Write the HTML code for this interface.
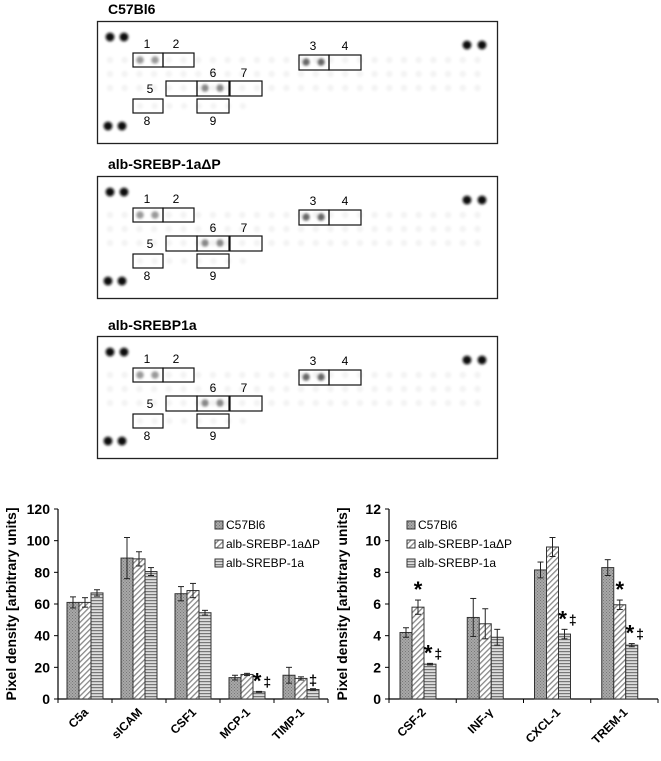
<!DOCTYPE html>
<html><head><meta charset="utf-8">
<style>
body{margin:0;background:#fff;font-family:"Liberation Sans",Arial,sans-serif;}
svg text{font-family:"Liberation Sans",Arial,sans-serif;}
</style></head>
<body>
<svg id="s" width="661" height="756" viewBox="0 0 661 756" xmlns="http://www.w3.org/2000/svg">
<defs>
<filter id="blur"><feGaussianBlur stdDeviation="1.3"/></filter>
<pattern id="pA" width="3" height="3" patternUnits="userSpaceOnUse"><rect width="3" height="3" fill="#a8a8a8"/><rect width="1" height="1" fill="#777"/><rect x="1.5" y="1.5" width="1" height="1" fill="#777"/></pattern>
<pattern id="pB" width="4" height="4" patternUnits="userSpaceOnUse" patternTransform="rotate(45)"><rect width="4" height="4" fill="#fff"/><rect width="1.3" height="4" fill="#888"/></pattern>
<pattern id="pC" width="4" height="3" patternUnits="userSpaceOnUse"><rect width="4" height="3" fill="#ddd"/><rect width="4" height="1.2" fill="#777"/></pattern>
</defs>
<g id="blots"></g>
<g id="chart1"></g>
<g id="chart2"></g>
</svg>
<script>
const NS="http://www.w3.org/2000/svg";
function mk(p,tag,at,txt){const e=document.createElementNS(NS,tag);for(const k in at)e.setAttribute(k,at[k]);if(txt!==undefined)e.textContent=txt;p.appendChild(e);return e;}

// ---- blots ----
const panelTitles=["C57Bl6","alb-SREBP-1a\u0394P","alb-SREBP1a"];
const panelTops=[21,176,336];
const titleYs=[14,169,330];
const blots=document.getElementById('blots');
const boxes=[[133,53,30,14],[163,53,31,14],[299,55,30,15],[329,55,32,15],[166,81,31,15],[197,81,32,15],[230,81,32,15],[133,99,30,14],[197,99,32,14]];
const lbl=[[147,48,"1"],[176,48,"2"],[313,50,"3"],[345,50,"4"],[150,93,"5"],[213,77,"6"],[244,77,"7"],[147,125,"8"],[213,125,"9"]];
const strong=[[140,60,"#999"],[155,60,"#999"],[306,62,"#666"],[321,62,"#666"],[205,88,"#888"],[220,88,"#888"]];
panelTops.forEach((pt,i)=>{
  const g=mk(blots,'g',{});
  
  
  const t=mk(g,'text',{x:108,y:titleYs[i],'font-size':14,'font-weight':'bold'},panelTitles[i]);
  
  
  const dy=pt-21;
  mk(g,'rect',{x:97.5,y:pt+0.5,width:400,height:122,fill:'#fff',stroke:'#222','stroke-width':1.3});
  const sp=mk(g,'g',{filter:'url(#blur)'});
  for(let r=0;r<3;r++)for(let c=0;c<26;c++){const x=110+c*14.7,y=60+r*14+dy;mk(sp,'circle',{cx:x,cy:y,r:3.2,fill:'#f3f3f3'});}
  for(let c=0;c<8;c++){mk(sp,'circle',{cx:140+c*14.7,cy:106+dy,r:3,fill:'#f3f3f3'});}
  [[110,37],[124,37],[108,126],[122,126],[467,45],[482,45]].forEach(p=>mk(sp,'circle',{cx:p[0],cy:p[1]+dy,r:4.4,fill:'#111'}));
  strong.forEach(p=>mk(sp,'circle',{cx:p[0],cy:p[1]+dy,r:3.8,fill:p[2]}));
  boxes.forEach(b=>mk(g,'rect',{x:b[0],y:b[1]+dy,width:b[2],height:b[3],fill:'none',stroke:'#111','stroke-width':1.2}));
  lbl.forEach(l=>mk(g,'text',{x:l[0],y:l[1]+dy,'font-size':12,'text-anchor':'middle'},l[2]));
});

// ---- chart data ----
const series=["C57Bl6","alb-SREBP-1a\u0394P","alb-SREBP-1a"];
const cats1=["C5a","sICAM","CSF1","MCP-1","TIMP-1"];
const s1a=[61,89,66.5,13.5,15];
const s1b=[61,88.5,68.5,15.5,13];
const s1c=[67,80.5,54.5,4.5,6];
const e1a=[3.5,13,4.5,1.5,5];
const e1b=[3,4.5,4.5,0.7,1];
const e1c=[2,2.5,1.5,0.3,0.5];
const marks1=[["","",""],["","",""],["","",""],["","","*\u2021"],["","","\u2021"]];
const ticks1=[0,20,40,60,80,100,120];
const cats2=["CSF-2","INF-\u03b3","CXCL-1","TREM-1"];
const s2a=[4.2,5.15,8.15,8.3];
const s2b=[5.8,4.75,9.6,5.95];
const s2c=[2.2,3.9,4.1,3.4];
const e2a=[0.3,1.2,0.5,0.5];
const e2b=[0.45,0.95,0.6,0.3];
const e2c=[0.05,0.5,0.3,0.1];
const marks2=[["","*","*\u2021"],["","",""],["","","*\u2021"],["","*","*\u2021"]];
const ticks2=[0,2,4,6,8,10,12];

const fills=["url(#pA)","url(#pB)","url(#pC)"];
function chart(gid,o){
  const g=document.getElementById(gid);
  const ymax=o.ticks[o.ticks.length-1];
  const yS=v=>o.y0-(v/ymax)*(o.y0-o.y1);
  const cw=(o.x1-o.x0)/o.cats.length;
  mk(g,'line',{x1:o.x0,y1:o.y1,x2:o.x0,y2:o.y0,stroke:'#000','stroke-width':1.2});
  mk(g,'line',{x1:o.x0,y1:o.y0,x2:o.x1,y2:o.y0,stroke:'#000','stroke-width':1.2});
  o.ticks.forEach(t=>{const y=yS(t);
    mk(g,'line',{x1:o.x0-4,y1:y,x2:o.x0,y2:y,stroke:'#000'});
    const tx=mk(g,'text',{x:o.x0-8,y:y+5,'font-size':14,'font-weight':'bold','text-anchor':'end'},String(t));
    
    
  });
  for(let i=0;i<=o.cats.length;i++){const x=o.x0+i*cw;mk(g,'line',{x1:x,y1:o.y0,x2:x,y2:o.y0+4,stroke:'#000'});}
  const yt=mk(g,'text',{transform:`translate(${o.x0-42},${(o.y0+o.y1)/2}) rotate(-90)`,'font-size':14,'font-weight':'bold','text-anchor':'middle'},'Pixel density [arbitrary units]');
  
  
  const vals=[o.a,o.b,o.c],errs=[o.ea,o.eb,o.ec];
  o.cats.forEach((c,i)=>{
    const gx=o.x0+i*cw+o.off;
    for(let s=0;s<3;s++){
      const x=gx+s*o.bw,v=vals[s][i],e=errs[s][i];
      const r=mk(g,'rect',{x:x,y:yS(v),width:o.bw,height:o.y0-yS(v),fill:fills[s],stroke:'#333','stroke-width':1});
      
      
      const cx=x+o.bw/2;
      mk(g,'line',{x1:cx,y1:yS(v+e),x2:cx,y2:yS(v-e),stroke:'#222','stroke-width':1});
      mk(g,'line',{x1:cx-3,y1:yS(v+e),x2:cx+3,y2:yS(v+e),stroke:'#222','stroke-width':1});
      mk(g,'line',{x1:cx-3,y1:yS(v-e),x2:cx+3,y2:yS(v-e),stroke:'#222','stroke-width':1});
      const m=o.marks[i][s];
      if(m){const mt=mk(g,'text',{x:cx+(m.length>1?3:0),y:yS(v+e)-3,'font-size':22,'font-weight':'bold','text-anchor':'middle'},'');
        if(m[0]==='*'){mk(mt,'tspan',{},'*');if(m.length>1)mk(mt,'tspan',{'font-size':14,dx:2,dy:-2},'\u2021');}
        else mk(mt,'tspan',{'font-size':15},'\u2021');
        
        
      }
    }
    const cxm=o.x0+i*cw+cw/2+4;
    const xl=mk(g,'text',{transform:`translate(${cxm},${o.y0+14}) rotate(-45)`,'font-size':12,'font-weight':'bold','text-anchor':'end'},c);
    
    
  });
  series.forEach((s,i)=>{
    const y=o.ly+i*19;
    const lg=mk(g,'g',{});
    
    
    mk(lg,'rect',{x:o.lx,y:y-8,width:8,height:8,fill:fills[i],stroke:'#333'});
    mk(lg,'text',{x:o.lx+11,y:y,'font-size':12},s);
  });
}
chart('chart1',{x0:58,x1:328,y0:699,y1:509,ticks:ticks1,cats:cats1,a:s1a,b:s1b,c:s1c,ea:e1a,eb:e1b,ec:e1c,marks:marks1,off:9,bw:12,lx:215,ly:529});
chart('chart2',{x0:389,x1:658,y0:699,y1:509,ticks:ticks2,cats:cats2,a:s2a,b:s2b,c:s2c,ea:e2a,eb:e2b,ec:e2c,marks:marks2,off:11,bw:12,lx:407,ly:529});
</script>
</body></html>
